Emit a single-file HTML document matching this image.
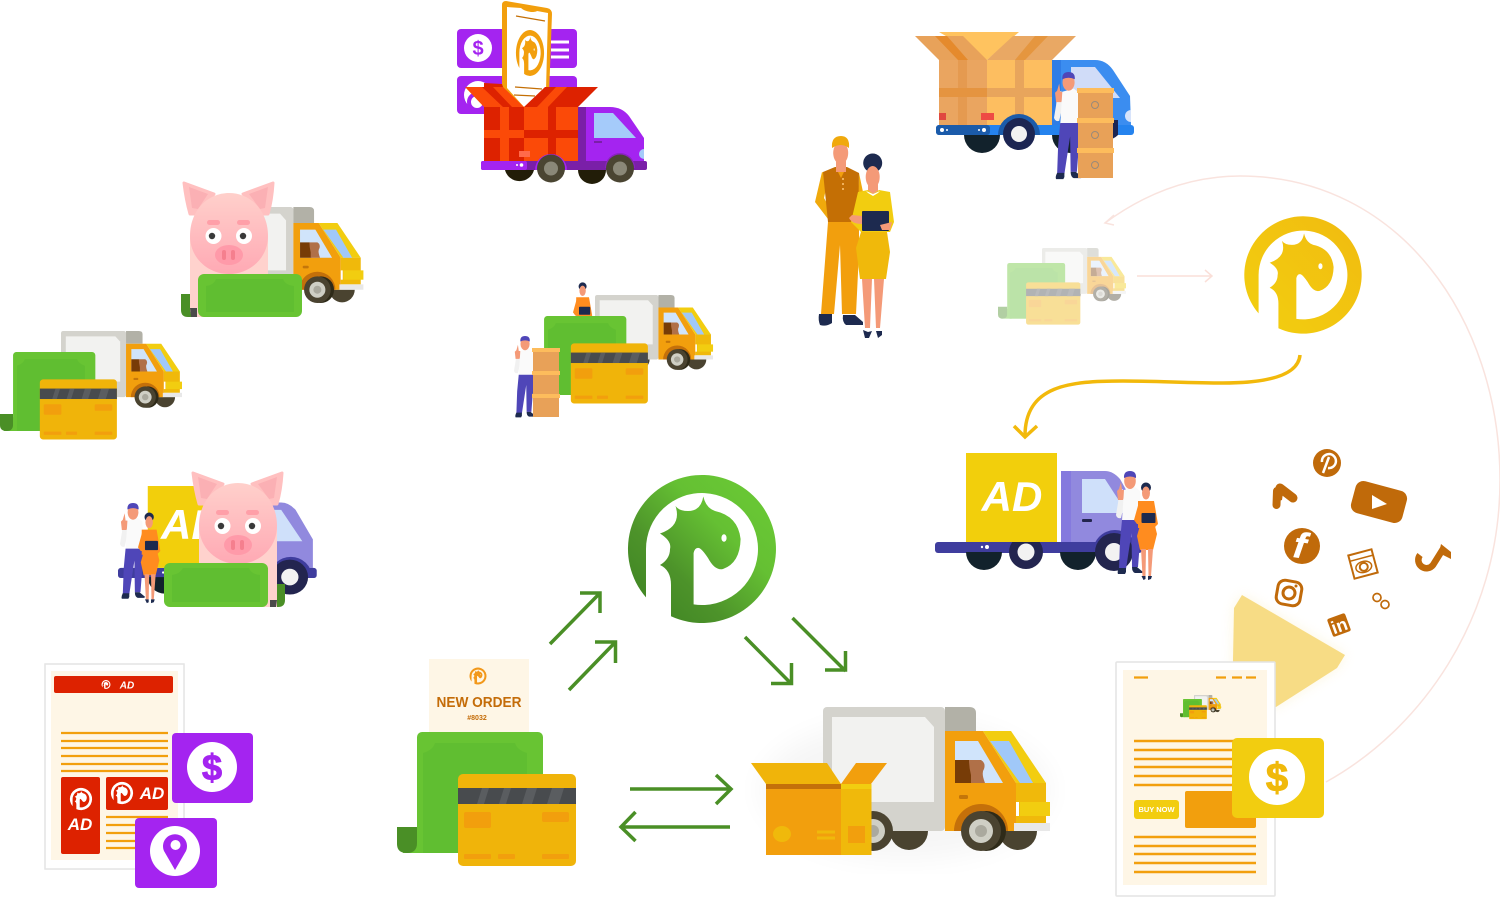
<!DOCTYPE html>
<html><head><meta charset="utf-8"><style>
html,body{margin:0;padding:0;background:#fff}
svg{display:block}
text{font-family:"Liberation Sans",sans-serif}
</style></head><body>
<svg width="1500" height="911" viewBox="0 0 1500 911" xmlns="http://www.w3.org/2000/svg">
<defs>
<linearGradient id="gg" x1="0.1" y1="0.95" x2="0.85" y2="0.2"><stop offset="0" stop-color="#3f8423"/><stop offset=".35" stop-color="#4d932a"/><stop offset=".75" stop-color="#65c033"/><stop offset="1" stop-color="#68c634"/></linearGradient>
<linearGradient id="yy" x1="0" y1="1" x2="1" y2="0"><stop offset="0" stop-color="#f2cf10"/><stop offset="1" stop-color="#f1bb10"/></linearGradient>
<linearGradient id="pk" x1="0" y1="0" x2="0" y2="1"><stop offset="0" stop-color="#ffd0cb"/><stop offset="1" stop-color="#ffa9b4"/></linearGradient>
<filter id="bl"><feGaussianBlur stdDeviation="14"/></filter>
<filter id="bs"><feGaussianBlur stdDeviation="6"/></filter>
<path id="logo" d="M-56,48.400 L-56,0 A56,56 0 1 1 -8.400,55.400 L-8.400,4 Q-7,-2 -3,-1 Q0,0 6,9 Q13,22 21,20 Q38,14 38.600,-10 Q36,-33 13,-38 Q4,-41 1.300,-52.500 Q-1,-38 -14,-38 Q-23,-38 -26.500,-43 Q-20,-23 -42,-15.500 Q-30,-8 -32,0 Q-32,10 -42,16 Q-31,21 -31,36 L-31,67.200 A74,74 0 1 0 -56,48.400 Z"/>
<g id="logoc"><use href="#logo"/><ellipse cx="22" cy="-11" rx="2.600" ry="3.800" fill="#fff"/></g>
<g id="truck">
<path d="M20,124 A30,30 0 0 1 80,124Z" fill="#c4c4bc"/>
<rect x="0" y="0" width="122" height="124" rx="4" fill="#d4d3cd"/>
<path d="M122,0H146Q153,0 153,6V24H122Z" fill="#b2b1a7"/>
<path d="M9,10H102L111,20V95H9Z" fill="#f2f2f0"/>
<path d="M67,124A19,19 0 0 0 105,124Z" fill="#4a4330"/>
<circle cx="50" cy="124" r="20" fill="#4a4330"/><circle cx="50" cy="124" r="12" fill="#cfcfc5"/><circle cx="50" cy="124" r="6" fill="#aaa99e"/>
<path d="M176,124A19,19 0 0 0 214,124Z" fill="#4a4330"/>
<polygon points="122,24 160,24 193,76 193,124 122,124" fill="#f29f0d"/>
<polygon points="160,24 188,24 223,76 193,76" fill="#f2cd10"/>
<rect x="193" y="76" width="30" height="40" fill="#f0b90b"/>
<polygon points="132,34 155,34 180,76 132,76" fill="#d0e4fb"/>
<polygon points="167,34 186,34 210,76 197,76" fill="#a0c8f8"/>
<path d="M132,53H146Q150,54 149,60Q148,65 149,68V76H132Z" fill="#773c07"/>
<path d="M146,53H158Q163,56 161,62Q158,66 162,76H148V68Q146,60 146,53Z" fill="#b07048"/>
<rect x="136" y="88" width="9" height="4" rx="1.500" fill="#c4760a"/>
<rect x="193" y="95" width="3" height="14" fill="#fff"/>
<rect x="197" y="95" width="30" height="14" fill="#f2cd10"/>
<rect x="191" y="116" width="36" height="8" fill="#e8e8e8"/>
<path d="M131,124A27,27 0 0 1 185,124Z" fill="#c4700a"/>
<circle cx="163" cy="124" r="20" fill="#2e2a18"/>
<circle cx="158" cy="124" r="20" fill="#4a4330"/><circle cx="158" cy="124" r="12" fill="#cfcfc5"/><circle cx="158" cy="124" r="6" fill="#aaa99e"/>
</g>
<g id="pay">
<path d="M6,121H30V100H6Z" fill="#68c433"/>
<path d="M0,95H20V111Q20,121 10,121Q0,121 0,112Z" fill="#4a8f26"/>
<rect x="20" y="0" width="126" height="121" rx="5" fill="#68c433"/>
<path d="M26,21Q36,18 38,11H118Q120,18 130,21V121H26Z" fill="#60be31"/>
<rect x="61" y="42" width="118" height="92" rx="5" fill="#f0b40a"/>
<rect x="61" y="56" width="118" height="16" fill="#484b4e"/>
<path d="M85,56h7l-5,16h-7zM107,56h7l-5,16h-7zM130,56h10l-5,16h-10zM155,56h12l-5,16h-12z" fill="#5a5d60"/>
<rect x="67" y="80" width="27" height="16" rx="2" fill="#f29f0d"/>
<rect x="145" y="80" width="27" height="10" rx="2" fill="#f29f0d"/>
<rect x="67" y="122" width="27" height="5" rx="1" fill="#f29f0d"/><rect x="101" y="122" width="17" height="5" rx="1" fill="#f29f0d"/><rect x="145" y="122" width="27" height="5" rx="1" fill="#f29f0d"/>
</g>
<g id="man">
<path d="M7,18Q3,20 2,32L0,44Q1,48 5,47L8,34Z" fill="#f1f1f1"/>
<path d="M5,11l-2,7-2,2 1,9h5l2-6-1-4-2,0z" fill="#f49a78"/>
<path d="M8,19L19,16L24,20L25,50H6Z" fill="#fafafa"/>
<path d="M6,49H25L24,70L22,96H16L15.500,62L10,98H3L4,70Z" fill="#4f46b8"/>
<path d="M3,97h7v4l-1,2h-7Q1,101 3,97ZM16,96h5l6,5-1,1h-7Q16,101 16,96Z" fill="#1d2a4f"/>
<ellipse cx="14" cy="10" rx="5.800" ry="8" fill="#f49a78"/>
<path d="M8,7Q7.500,0 14,0Q20.500,0 20,7Q14,4 8,7Z" fill="#4f46b8"/>
</g>
<g id="woman">
<path d="M4,19L20,19L24,42L20,46L4,46Z" fill="#ff8c1f"/>
<path d="M5,20L0,38L3,42L8,42L8,28Z" fill="#ff8c1f"/>
<path d="M7,40H20L23,52L19,68H6L3,54Z" fill="#ff8c1f"/>
<path d="M7,67H12L11.500,94H8.500ZM14,67H19L17,94H14.500Z" fill="#f49a78"/>
<path d="M7.500,94h4v3l-2,1zM14,94h4l-1,3-3,1z" fill="#1d2a4f"/>
<circle cx="12" cy="5.500" r="5" fill="#1d2a4f"/>
<ellipse cx="12" cy="11" rx="4" ry="6.500" fill="#f49a78"/>
<rect x="7.500" y="31" width="14" height="10" rx="1" fill="#1d2a4f"/>
</g>
<g id="adtruck">
<path d="M126,18H170Q178,18 185,26L203,58V89H126Z" fill="#9189de"/>
<rect x="126" y="18" width="10" height="71" fill="#857ade"/>
<path d="M147,26H170L192,60H147Z" fill="#cfe0fa"/>
<rect x="147" y="66" width="10" height="3" rx="1" fill="#23254f"/>
<rect x="0" y="89" width="207" height="11" rx="3" fill="#3f3d9e"/>
<path d="M31,99A18,18 0 0 0 67,99Z" fill="#12222c"/>
<path d="M125,99A18,18 0 0 0 161,99Z" fill="#12222c"/>
<path d="M68,99A22,22 0 0 1 112,99Z" fill="#3f3d9e"/>
<path d="M158,99A22,22 0 0 1 202,99Z" fill="#3f3d9e"/>
<circle cx="91" cy="99" r="17" fill="#23254f"/><circle cx="91" cy="99" r="8.500" fill="#f2f2f2"/>
<circle cx="179" cy="99" r="19" fill="#23254f"/><circle cx="179" cy="99" r="9" fill="#f2f2f2"/>
<rect x="31" y="0" width="91" height="89" fill="#f2cf0c"/>
<circle cx="47" cy="94" r="1.200" fill="#fff"/><circle cx="52" cy="94" r="2" fill="#fff"/>
</g>
<g id="pig">
<path d="M184,183L214,194L200,214L190,214Q186,200 184,183Z" fill="#ffc0c0" stroke="#ffc0c0" stroke-width="3" stroke-linejoin="round"/>
<path d="M273,183L243,194L263,214L268,214Q272,200 273,183Z" fill="#ffc0c0" stroke="#ffc0c0" stroke-width="3" stroke-linejoin="round"/>
<path d="M189,187L208,194L198,209L192,208Z" fill="#fbb0b4"/>
<path d="M268,187L249,194L260,209L265,208Z" fill="#fbb0b4"/>
<path d="M190,236V308Q190,317 195,317H268V236Z" fill="#ffd2cd"/>
<path d="M190,308L191,317H197V308Z" fill="#4a4a4a"/>
<path d="M229,193C250,193 268,210 268,236C268,258 250,274 229,274C208,274 190,258 190,236C190,210 208,193 229,193Z" fill="url(#pk)"/>
<rect x="207" y="220" width="13" height="5" rx="2.500" fill="#ff9fa8"/><rect x="237" y="220" width="13" height="5" rx="2.500" fill="#ff9fa8"/>
<circle cx="213.500" cy="236" r="8" fill="#fff"/><circle cx="244" cy="236" r="8" fill="#fff"/>
<circle cx="212" cy="236" r="3.200" fill="#3a3a3a"/><circle cx="243" cy="236" r="3.200" fill="#3a3a3a"/>
<ellipse cx="229" cy="255" rx="14" ry="10" fill="#ff9aa9"/>
<rect x="222" y="250" width="4" height="10" rx="2" fill="#f57f8e"/><rect x="231" y="250" width="4" height="10" rx="2" fill="#f57f8e"/>
</g>
</defs>
<rect width="1500" height="911" fill="#fff"/>

<!-- pink arc -->
<path d="M1105,223C1150,190 1195,176 1240,176C1400,176 1500,320 1500,480C1500,620 1420,730 1326,782" fill="none" stroke="#f9e3de" stroke-width="1.500"/>
<path d="M1114,215L1105,223L1114,225" fill="none" stroke="#f9e3de" stroke-width="1.500"/>

<!-- red truck & phone -->
<rect x="457" y="29" width="120" height="39" rx="4" fill="#a424f0"/>
<rect x="457" y="76" width="120" height="38" rx="4" fill="#a424f0"/>
<circle cx="478" cy="48" r="14" fill="#fff"/><text x="478" y="55" font-size="20" font-weight="bold" fill="#a424f0" text-anchor="middle">$</text>
<circle cx="478" cy="95" r="14" fill="#fff"/><circle cx="477" cy="102" r="8" fill="none" stroke="#a424f0" stroke-width="4"/>
<path d="M551,42H569M551,50H569M551,57H569" stroke="#fff" stroke-width="3"/>
<path d="M506,1L547,8Q552,9 552,14L549,95L524,110L502,90V5Q502,1 506,1Z" fill="#f29f0d"/>
<path d="M507,7L521,8 Q524,11 531,12 Q536,12 537,11L548,13L546,90L524,107L507,88Z" fill="#fff"/>
<path d="M516,16L545,21M515,87L542,89M514,95L535,96" stroke="#c46f05" stroke-width="1.200"/>
<use href="#logoc" transform="translate(530,53) scale(.19,.31)" fill="#f29f0d"/>
<polygon points="484,83 502,84 510,107 484,107" fill="#dd2200"/>
<polygon points="465,87 503,87 524,107 484,107" fill="#fb4a08"/>
<polygon points="482,87 493,87 512,107 503,107" fill="#dd2200"/>
<polygon points="524,107 545,87 598,87 578,107" fill="#dd2200"/>
<polygon points="556,87 567,87 548,107 537,107" fill="#fb4a08"/>
<path d="M505,170A15,15 0 0 0 534,170Z" fill="#221d08"/>
<path d="M578,170A14,14 0 0 0 606,170Z" fill="#221d08"/>
<path d="M578,107H610Q622,107 629,116L644,138V161H578Z" fill="#a424f0"/>
<rect x="578" y="107" width="8" height="54" fill="#7a1fa8"/>
<polygon points="594,113 613,113 636,138 594,138" fill="#a5cbfa"/>
<rect x="594" y="141" width="8" height="2" fill="#7a1fa8"/>
<path d="M644,149A5,5 0 0 0 644,159Z" fill="#a5cbfa"/>
<rect x="484" y="107" width="40" height="54" fill="#dd2200"/>
<rect x="524" y="107" width="54" height="54" fill="#fb4a08"/>
<rect x="500" y="107" width="9" height="54" fill="#fb4a08"/>
<rect x="548" y="107" width="8" height="54" fill="#dd2200"/>
<rect x="484" y="130" width="40" height="8" fill="#fb4a08"/>
<rect x="524" y="130" width="54" height="8" fill="#dd2200"/>
<rect x="519" y="151" width="11" height="6" fill="#ff6a4a"/>
<rect x="481" y="161" width="166" height="9" rx="2" fill="#7a1fa8"/>
<rect x="481" y="161" width="46" height="9" rx="2" fill="#a424f0"/>
<circle cx="517" cy="165" r="1" fill="#fff"/><circle cx="521.500" cy="165" r="1.800" fill="#fff"/>
<path d="M535,170A16,16 0 0 1 567,170Z" fill="#a424f0"/>
<circle cx="551" cy="168.500" r="14" fill="#4a4532"/><circle cx="551" cy="168.500" r="7" fill="#8a8878"/>
<path d="M605,168A15,15 0 0 1 635,168Z" fill="#8a23c0"/>
<circle cx="620" cy="168.500" r="14" fill="#4a4532"/><circle cx="620" cy="168.500" r="7" fill="#8a8878"/>

<!-- blue truck -->
<path d="M1052,60H1095Q1106,60 1113,70L1130,96L1131,125H1052Z" fill="#3b8df0"/>
<rect x="1052" y="60" width="9" height="65" fill="#2f7de6"/>
<polygon points="1071,67 1095,67 1120,98 1071,98" fill="#d0dcf8"/>
<path d="M1131,110A6,6 0 0 0 1131,122Z" fill="#d8e4fb"/>
<polygon points="939,32 1019,32 987,60" fill="#ffc35f"/>
<polygon points="915,36 963,36 987,60 939,60" fill="#e8a25a"/>
<polygon points="935,36 947,36 968,60 958,60" fill="#e58a2c"/>
<polygon points="987,60 1013,36 1076,36 1052,60" fill="#e9a864"/>
<polygon points="1035,36 1048,36 1025,60 1015,60" fill="#e5963f"/>
<rect x="939" y="60" width="48" height="65" fill="#eaa560"/>
<rect x="987" y="60" width="65" height="65" fill="#fdbe60"/>
<rect x="958" y="60" width="9" height="65" fill="#e59a50"/>
<rect x="1015" y="60" width="9" height="65" fill="#e8a55c"/>
<rect x="939" y="88" width="48" height="9" fill="#e59440"/>
<rect x="987" y="88" width="65" height="9" fill="#e8a55c"/>
<rect x="939" y="113" width="7" height="7" fill="#e04840"/><rect x="981" y="113" width="13" height="7" fill="#ee4a44"/>
<path d="M964,135A18,18 0 0 0 1000,135Z" fill="#12222c"/>
<path d="M1052,135A18,18 0 0 0 1088,135Z" fill="#12222c"/>
<rect x="936" y="125" width="198" height="10" rx="3" fill="#2583ee"/>
<rect x="936" y="125" width="54" height="10" rx="3" fill="#1b5baa"/>
<circle cx="942" cy="130" r="2" fill="#fff"/><circle cx="947" cy="130" r="1" fill="#fff"/><circle cx="979" cy="130" r="1" fill="#fff"/><circle cx="984" cy="130" r="2" fill="#fff"/>
<path d="M998,135A21,21 0 0 1 1040,135Z" fill="#1b5baa"/>
<circle cx="1019" cy="134" r="16" fill="#1c2552"/><circle cx="1019" cy="134" r="8" fill="#f2f2f2"/>
<path d="M1095,135A16,16 0 0 0 1118,135V120H1095Z" fill="#1c2552"/>
<use href="#man" transform="translate(1054,72) scale(1.040)"/>
<rect x="1078" y="88" width="35" height="30" fill="#e8a158"/><rect x="1078" y="118" width="35" height="30" fill="#e8a158"/><rect x="1078" y="148" width="35" height="30" fill="#e8a158"/>
<rect x="1077" y="88" width="37" height="5" fill="#fdbc5c"/><rect x="1077" y="118" width="37" height="5" fill="#fdbc5c"/><rect x="1077" y="148" width="37" height="5" fill="#fdbc5c"/>
<g fill="none" stroke="#9a8a7a" stroke-width="1"><circle cx="1095" cy="105" r="3.500"/><circle cx="1095" cy="135" r="3.500"/><circle cx="1095" cy="165" r="3.500"/></g>

<!-- couple -->
<g>
<path d="M819,314H832V323Q826,327 820,325Q818,320 819,314ZM843,315H855L863,322V325H846Q842,322 843,315Z" fill="#1d2a4f"/>
<path d="M822,172L815,202L828,219L828,205L824,198L829,175Z" fill="#f0a90c"/>
<path d="M859,173L863,192L858,200Z" fill="#f0a90c"/>
<path d="M828,222H859V252L856,314H842L840,245L834,314H821Z" fill="#f29f0d"/>
<polygon points="823,172 835,167 847,167 859,173 858,222 828,222" fill="#c46f05"/>
<polygon points="836,168 841,178 846,168" fill="#f29f0d"/>
<path d="M843,178V190" stroke="#f0b05a" stroke-width="2" stroke-dasharray="2 3"/>
<rect x="836" y="155" width="10" height="17" fill="#f49a78"/>
<ellipse cx="840.700" cy="153" rx="7.500" ry="11" fill="#f49a78"/>
<path d="M832,148Q831,136 841,136Q850,136 849,148Q841,142 832,148Z" fill="#f0a90c"/>
<path d="M862,279H872L870,328H865ZM874,279H884L880,328H876Z" fill="#f49a78"/>
<path d="M863,330L868,332L872,331L869,338H865ZM876,331L882,331L882,335L878,338Z" fill="#1d2a4f"/>
<circle cx="872.700" cy="163" r="9.500" fill="#1d2a4f"/>
<rect x="868" y="180" width="10" height="14" fill="#f49a78"/>
<ellipse cx="872.700" cy="177" rx="7" ry="11" fill="#f49a78"/>
<path d="M858,192L868,190L873,194L879,190L890,192L894,222L890,232H861L851,222Z" fill="#f2cd10"/>
<path d="M866,191L873,194L880,191L878,193L873,196L868,193Z" fill="#fff"/>
<path d="M861,232H887L890,252L886,279H860L856,248Z" fill="#f0b90b"/>
<rect x="862" y="211" width="27" height="20" rx="1" fill="#1d2a4f"/>
<path d="M849,218Q852,224 862,224V216L852,215Z" fill="#f49a78"/>
<path d="M880,225L892,222L890,230L882,230Z" fill="#f49a78"/>
</g>

<!-- yellow logo & ghost -->
<use href="#logoc" transform="translate(1303,275) scale(.793)" fill="url(#yy)"/>
<path d="M1300,355C1298,378 1260,383 1223,383C1190,383 1155,381 1123,381C1070,381 1025,385 1025,436" fill="none" stroke="#f2b90b" stroke-width="3.500"/>
<path d="M1014,426L1025,437L1037,426" fill="none" stroke="#f2b90b" stroke-width="3.500"/>
<path d="M1137,276H1212M1205,270L1212,276L1205,282" fill="none" stroke="#fadfd8" stroke-width="1.500"/>
<g opacity=".42">
<use href="#truck" transform="translate(1042,248) scale(.37)"/>
<use href="#pay" transform="translate(998,263) scale(.46)"/>
</g>

<!-- pig 1 group -->
<use href="#truck" transform="translate(212,207) scale(.667)"/>
<path d="M181,294H198V317H188Q181,317 181,310Z" fill="#4a8f26"/>
<use href="#pig"/>
<rect x="198" y="274" width="104" height="43" rx="6" fill="#68c433"/>
<path d="M206,286Q214,285 216,279H283Q285,285 294,286V312H206Z" fill="#60be31"/>

<!-- payment + truck left -->
<use href="#truck" transform="translate(61,331) scale(.533)"/>
<use href="#pay" transform="translate(0,352) scale(.653)"/>

<!-- center group -->
<use href="#woman" transform="translate(573,282) scale(.8)"/>
<use href="#truck" transform="translate(595,295) scale(.52)"/>
<use href="#pay" transform="translate(531,316) scale(.653)"/>
<use href="#man" transform="translate(514,336) scale(.79)"/>
<rect x="533" y="348" width="26" height="23" fill="#e8a158"/><rect x="533" y="371" width="26" height="23" fill="#e8a158"/><rect x="533" y="394" width="26" height="23" fill="#e8a158"/>
<rect x="532" y="348" width="28" height="4" fill="#fdbc5c"/><rect x="532" y="371" width="28" height="4" fill="#fdbc5c"/><rect x="532" y="394" width="28" height="4" fill="#fdbc5c"/>

<!-- AD truck -->
<use href="#adtruck" transform="translate(935,453)"/>
<text x="1012" y="511" font-size="42" font-weight="bold" font-style="italic" fill="#fff" text-anchor="middle">AD</text>
<use href="#man" transform="translate(1116,471)"/>
<use href="#woman" transform="translate(1134,482)"/>

<!-- pig 2 group -->
<use href="#adtruck" transform="translate(118,486) scale(.96,.92)"/>
<text x="161" y="539" font-size="42" font-weight="bold" font-style="italic" fill="#fff">AD</text>
<use href="#man" transform="translate(120,503) scale(.93)"/>
<use href="#woman" transform="translate(138,512) scale(.93)"/>
<path d="M268,584H285V600Q285,607 278,607H268Z" fill="#4a8f26"/>
<use href="#pig" transform="translate(9,290)"/>
<path d="M270,600L277,600L276,607H270Z" fill="#4a4a4a"/>
<rect x="164" y="563" width="104" height="44" rx="6" fill="#68c433"/>
<path d="M172,575Q180,574 183,568H249Q251,574 260,575V602H172Z" fill="#60be31"/>

<!-- big green logo -->
<use href="#logoc" transform="translate(702,549)" fill="url(#gg)"/>

<!-- arrows -->
<g fill="none" stroke="#4a8f26" stroke-width="3.500">
<path d="M550,644L600,593M580,593H600V613"/>
<path d="M569,690L615.500,642M595,642H615.500V663"/>
<path d="M745,637L791.500,684M771,683.500H791.500V663"/>
<path d="M792.500,618L845.500,671M825,670H845.500V651"/>
<path d="M630,789H731M716,775L731,789L716,804"/>
<path d="M730,827H621M635.500,812L621,827L635.500,841"/>
</g>

<!-- new order -->
<rect x="429" y="659" width="100" height="74" fill="#fef6e6"/>
<use href="#logoc" transform="translate(478,676) scale(.115)" fill="#f2981a"/>
<text x="479" y="707" font-size="14.500" font-weight="bold" fill="#c46c08" text-anchor="middle" textLength="85" lengthAdjust="spacingAndGlyphs">NEW ORDER</text>
<text x="477" y="720" font-size="7" font-weight="bold" fill="#c46c08" text-anchor="middle">#8032</text>
<use href="#pay" transform="translate(397,732)"/>

<!-- big truck -->
<ellipse cx="905" cy="790" rx="145" ry="70" fill="#000" opacity=".035" filter="url(#bl)"/>
<use href="#truck" transform="translate(823,707)"/>
<polygon points="751,763 827,763 841,784 766,784" fill="#f0b40a"/>
<polygon points="841,784 856,763 887,763 871,784" fill="#f29f0d"/>
<rect x="766" y="784" width="75" height="71" fill="#f29f0d"/>
<rect x="841" y="784" width="30.500" height="71" fill="#f0b90b"/>
<rect x="766" y="784" width="75" height="5" fill="#c4700a"/>
<rect x="841" y="784" width="30.500" height="5" fill="#f2cd10"/>
<ellipse cx="782" cy="834" rx="9" ry="8" fill="#f0b90b"/>
<path d="M817,832H835M817,838H835" stroke="#f0b90b" stroke-width="3"/>
<rect x="848" y="826" width="17" height="17" fill="#f29f0d"/>

<!-- left document -->
<rect x="45" y="664" width="139" height="205" fill="#fff" stroke="#e4e4e4" stroke-width="1.500"/>
<rect x="51" y="671" width="127" height="189" fill="#fef6e6"/>
<rect x="54" y="676" width="119" height="17" rx="2" fill="#dd2200"/>
<use href="#logoc" transform="translate(106,684.500) scale(.06)" fill="#fff"/>
<text x="127" y="688.500" font-size="10" font-weight="bold" font-style="italic" fill="#fff" text-anchor="middle">AD</text>
<path d="M61,733H168M61,741H168M61,748H168M61,756H168M61,764H168M61,771H168" stroke="#f29f0d" stroke-width="2.200"/>
<path d="M106,817H168M106,825H168M106,833H168M106,841H168M106,848H168" stroke="#f29f0d" stroke-width="2.200"/>
<rect x="61" y="777" width="39" height="77" rx="2" fill="#dd2200"/>
<rect x="106" y="777" width="62" height="33" rx="2" fill="#dd2200"/>
<use href="#logoc" transform="translate(81,799) scale(.15)" fill="#fff"/>
<text x="80" y="830" font-size="17" font-weight="bold" font-style="italic" fill="#fff" text-anchor="middle">AD</text>
<use href="#logoc" transform="translate(122,793) scale(.15)" fill="#fff"/>
<text x="152" y="799" font-size="17" font-weight="bold" font-style="italic" fill="#fff" text-anchor="middle">AD</text>
<rect x="172" y="733" width="81" height="70" rx="4" fill="#a424f0"/>
<circle cx="212" cy="767" r="25" fill="#fff"/>
<text x="212" y="780" font-size="36" font-weight="bold" fill="#a424f0" stroke="#a424f0" stroke-width="1" text-anchor="middle">$</text>
<rect x="135" y="818" width="82" height="70" rx="4" fill="#a424f0"/>
<circle cx="175" cy="851" r="25" fill="#fff"/>
<path d="M175,870L164,851A12,12 0 1 1 186,851Z" fill="#a424f0"/><circle cx="175.500" cy="845" r="5" fill="#fff"/>

<!-- social -->
<polygon points="1242,595 1345,655 1337,668 1276,707 1233,707 1233,660 1234,608" fill="#f7dc85" opacity=".25" filter="url(#bs)"/>
<polygon points="1242,595 1345,655 1337,668 1276,707 1233,707 1233,660 1234,608" fill="#f7dc85"/>
<g fill="#c06a0a">
<circle cx="1327" cy="463" r="14"/>
<path d="M1323,473L1329,457M1322,462A7,7 0 1 1 1328,468" fill="none" stroke="#fff" stroke-width="2.500"/>
<path d="M1280,488L1293,498" stroke="#c06a0a" stroke-width="9" stroke-linecap="round" fill="none"/>
<path d="M1277,491L1276.500,505" stroke="#c06a0a" stroke-width="8" stroke-linecap="round" fill="none"/>
<path d="M1274,488L1284,486L1282,500L1273,503Z"/>
<rect x="1352.500" y="485.500" width="53" height="33" rx="8" transform="rotate(15 1379 502)"/>
<polygon points="1372,495 1387,504 1372,509" fill="#fff"/>
<circle cx="1302" cy="546" r="18"/>
<text x="1300" y="558" font-size="36" font-weight="bold" font-style="italic" fill="#fff" stroke="#fff" stroke-width=".6" text-anchor="middle" transform="rotate(8 1302 546)">f</text>
<g fill="none" stroke="#c06a0a" stroke-width="2" transform="rotate(-15 1363 564)"><rect x="1351" y="552" width="24" height="24"/><path d="M1351,558H1375" stroke-width="1.500"/><circle cx="1363" cy="567" r="4"/><ellipse cx="1363" cy="567" rx="8" ry="5.500" stroke-width="1.500"/></g>
<path d="M1420,555A8,8 0 1 0 1433,565L1443,549" fill="none" stroke="#c06a0a" stroke-width="6.500"/>
<polygon points="1441,544 1451,552 1451,559 1439,553"/>
<g fill="none" stroke="#c06a0a" stroke-width="3" transform="rotate(10 1289 593)"><rect x="1277" y="581" width="24" height="24" rx="7"/><circle cx="1289" cy="593" r="6"/></g>
<circle cx="1296" cy="586" r="1.500"/>
<g fill="none" stroke="#c06a0a" stroke-width="1.700"><circle cx="1377" cy="597.500" r="4"/><circle cx="1385" cy="604.500" r="4"/></g>
<rect x="1329.500" y="615.500" width="19" height="19" rx="2" transform="rotate(-20 1339 625)"/>
<text x="1339" y="632" font-size="18" font-weight="bold" fill="#fff" text-anchor="middle" transform="rotate(-20 1339 625)">in</text>
</g>

<!-- right document -->
<rect x="1116" y="662" width="159" height="234" rx="1" fill="#fff" stroke="#e4e4e4" stroke-width="1.500"/>
<rect x="1123" y="670" width="144" height="215" fill="#fef6e6"/>
<path d="M1134,677.500H1148M1216,677.500H1226M1232,677.500H1242M1246,677.500H1256" stroke="#f29f0d" stroke-width="2.200"/>
<use href="#truck" transform="translate(1194,695) scale(.12)"/>
<use href="#pay" transform="translate(1180,699) scale(.15)"/>
<path d="M1134,741H1240M1134,750H1240M1134,759H1240M1134,767H1240M1134,776H1240M1134,785H1240" stroke="#f29f0d" stroke-width="2.400"/>
<rect x="1134" y="800" width="45" height="19" rx="3" fill="#f2cd10"/>
<text x="1156.500" y="812" font-size="7.500" font-weight="bold" fill="#fff" text-anchor="middle">BUY NOW</text>
<rect x="1185" y="791" width="71" height="37" rx="2" fill="#f29f0d"/>
<path d="M1134,837H1256M1134,846H1256M1134,854H1256M1134,863H1256M1134,872H1256" stroke="#f29f0d" stroke-width="2.400"/>
<rect x="1232" y="738" width="92" height="80" rx="5" fill="#f2cd10"/>
<circle cx="1277" cy="777" r="28" fill="#fff"/>
<text x="1277" y="791" font-size="40" font-weight="bold" fill="#f0b90b" stroke="#f0b90b" stroke-width="1" text-anchor="middle">$</text>
</svg>
</body></html>
